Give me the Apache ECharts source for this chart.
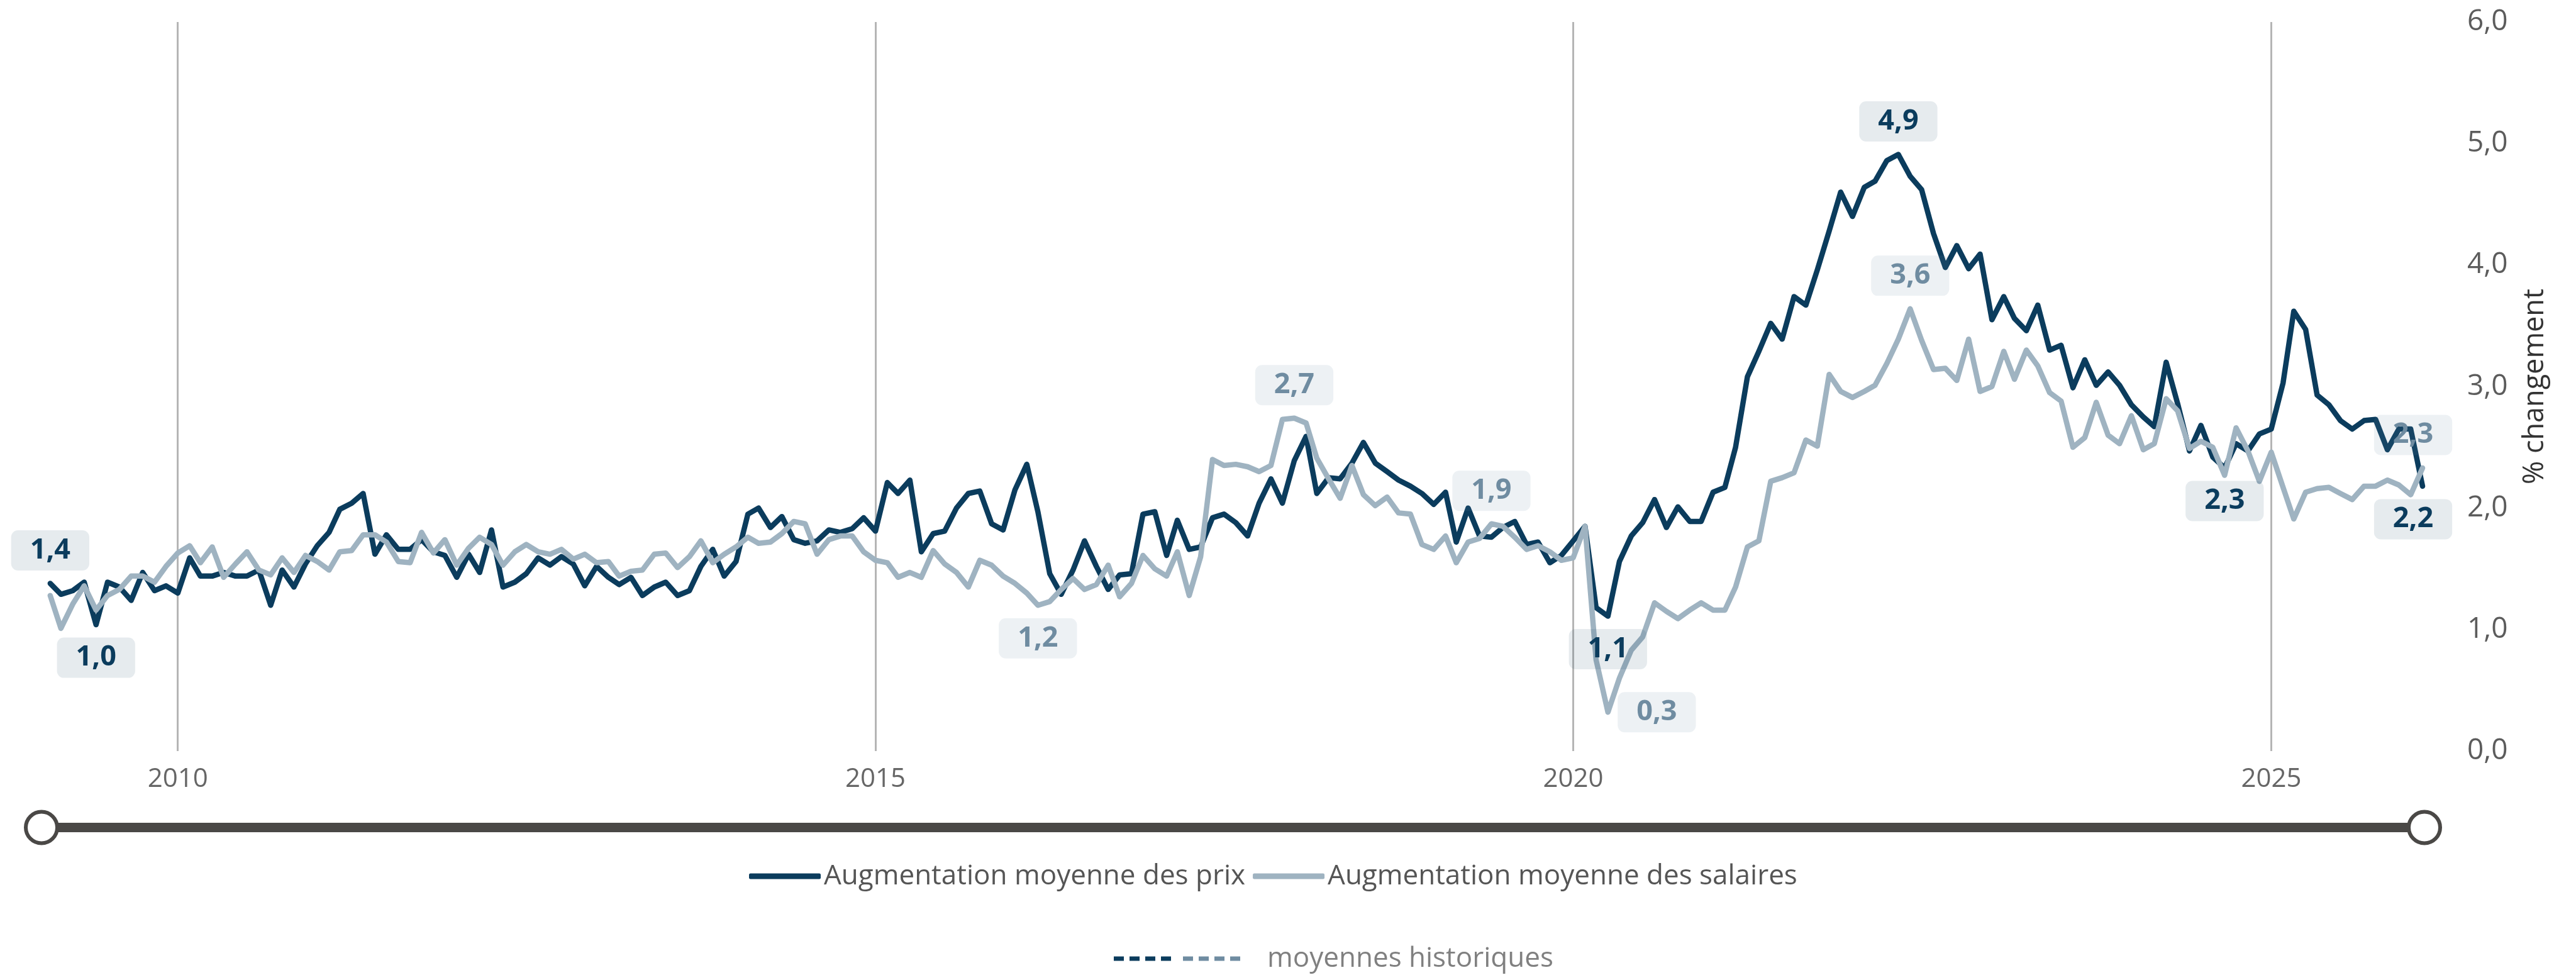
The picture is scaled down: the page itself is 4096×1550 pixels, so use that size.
<!DOCTYPE html>
<html lang="fr">
<head>
<meta charset="utf-8">
<title>Augmentation moyenne des prix et des salaires</title>
<script src="https://cdn.jsdelivr.net/npm/echarts@6/dist/echarts.min.js"></script>
<style>
  html, body { margin: 0; padding: 0; background: #fff; }
  #chart { width: 4096px; height: 1550px; }
</style>
</head>
<body>
<div id="chart"></div>
<script>
// premier point : février 2009, un point par mois
const startYear = 2009;
const startMonth = 2;

// Augmentation moyenne des prix (%)
const prices = [
  1.38, 1.29, 1.32, 1.39, 1.04, 1.39, 1.35, 1.24, 1.47, 1.32, 1.36,            // 2009
  1.30, 1.59, 1.44, 1.44, 1.47, 1.44, 1.44, 1.49, 1.20, 1.49, 1.35, 1.54,      // 2010
  1.69, 1.80, 1.99, 2.04, 2.12, 1.62, 1.78, 1.66, 1.66, 1.74, 1.64, 1.61,      // 2011
  1.43, 1.62, 1.47, 1.82, 1.35, 1.39, 1.46, 1.59, 1.53, 1.60, 1.54, 1.36,      // 2012
  1.52, 1.43, 1.37, 1.43, 1.28, 1.35, 1.39, 1.28, 1.32, 1.52, 1.66, 1.44,      // 2013
  1.56, 1.95, 2.00, 1.84, 1.93, 1.74, 1.71, 1.73, 1.82, 1.80, 1.83, 1.92,      // 2014
  1.81, 2.21, 2.12, 2.23, 1.64, 1.79, 1.81, 2.00, 2.12, 2.14, 1.87, 1.82,      // 2015
  2.15, 2.36, 1.97, 1.46, 1.29, 1.49, 1.73, 1.52, 1.33, 1.45, 1.46, 1.95,      // 2016
  1.97, 1.61, 1.90, 1.66, 1.68, 1.92, 1.95, 1.88, 1.77, 2.04, 2.24, 2.04,      // 2017
  2.39, 2.59, 2.12, 2.25, 2.24, 2.37, 2.54, 2.37, 2.30, 2.23, 2.18, 2.12,      // 2018
  2.03, 2.13, 1.72, 2.00, 1.77, 1.76, 1.84, 1.89, 1.70, 1.72, 1.55, 1.61,      // 2019
  1.73, 1.85, 1.18, 1.11, 1.56, 1.77, 1.88, 2.07, 1.84, 2.01, 1.89, 1.89,      // 2020
  2.13, 2.17, 2.50, 3.08, 3.29, 3.52, 3.39, 3.74, 3.67, 3.96, 4.28, 4.60,      // 2021
  4.40, 4.64, 4.69, 4.86, 4.91, 4.73, 4.62, 4.26, 3.98, 4.16, 3.97, 4.09,      // 2022
  3.55, 3.74, 3.56, 3.46, 3.67, 3.30, 3.34, 2.99, 3.22, 3.01, 3.12, 3.01,      // 2023
  2.85, 2.75, 2.67, 3.20, 2.86, 2.47, 2.68, 2.42, 2.33, 2.53, 2.47, 2.61,      // 2024
  2.65, 3.03, 3.62, 3.47, 2.93, 2.85, 2.72, 2.65, 2.72, 2.73, 2.48, 2.65,      // 2025
  2.65, 2.18                                                                   // 2026
];

// Augmentation moyenne des salaires (%)
const wages = [
  1.28, 1.01, 1.21, 1.36, 1.16, 1.28, 1.33, 1.44, 1.44, 1.39, 1.52,            // 2009
  1.63, 1.69, 1.55, 1.68, 1.43, 1.54, 1.64, 1.49, 1.45, 1.59, 1.47, 1.61,      // 2010
  1.56, 1.49, 1.64, 1.65, 1.78, 1.78, 1.72, 1.56, 1.55, 1.80, 1.63, 1.74,      // 2011
  1.53, 1.67, 1.76, 1.70, 1.53, 1.64, 1.70, 1.64, 1.62, 1.66, 1.58, 1.62,      // 2012
  1.55, 1.56, 1.44, 1.48, 1.49, 1.62, 1.63, 1.51, 1.60, 1.73, 1.55, 1.62,      // 2013
  1.68, 1.76, 1.71, 1.72, 1.79, 1.89, 1.87, 1.62, 1.74, 1.77, 1.77, 1.64,      // 2014
  1.57, 1.55, 1.43, 1.47, 1.43, 1.65, 1.54, 1.47, 1.35, 1.57, 1.53, 1.44,      // 2015
  1.38, 1.30, 1.20, 1.23, 1.33, 1.42, 1.33, 1.37, 1.53, 1.27, 1.38, 1.61,      // 2016
  1.50, 1.44, 1.64, 1.28, 1.60, 2.40, 2.35, 2.36, 2.34, 2.30, 2.35, 2.73,      // 2017
  2.74, 2.70, 2.41, 2.24, 2.08, 2.35, 2.11, 2.02, 2.09, 1.96, 1.95, 1.70,      // 2018
  1.66, 1.77, 1.55, 1.72, 1.75, 1.87, 1.85, 1.76, 1.66, 1.69, 1.64, 1.57,      // 2019
  1.59, 1.85, 0.75, 0.32, 0.60, 0.83, 0.94, 1.22, 1.15, 1.09, 1.16, 1.22,      // 2020
  1.16, 1.16, 1.35, 1.68, 1.73, 2.22, 2.25, 2.29, 2.56, 2.51, 3.10, 2.96,      // 2021
  2.91, 2.96, 3.01, 3.19, 3.39, 3.64, 3.38, 3.14, 3.15, 3.05, 3.39, 2.96,      // 2022
  3.00, 3.29, 3.06, 3.30, 3.17, 2.95, 2.88, 2.50, 2.58, 2.87, 2.60, 2.53,      // 2023
  2.76, 2.48, 2.53, 2.90, 2.80, 2.49, 2.55, 2.50, 2.27, 2.66, 2.47, 2.22,      // 2024
  2.46, 2.17, 1.91, 2.13, 2.16, 2.17, 2.12, 2.07, 2.18, 2.18, 2.23, 2.19,      // 2025
  2.11, 2.33                                                                   // 2026
];

// années repères sur l'axe horizontal
const xTickYears = [2010, 2015, 2020, 2025];

// étiquettes de valeurs (mois annotés et position de l'étiquette)
const priceLabelMonths = ['2009-02', '2009-06', '2020-04', '2022-05', '2024-09', '2026-02'];
const priceLabelPos = ['top', 'bottom', 'bottom', 'top', 'bottom', 'bottom'];
const wageLabelMonths = ['2016-03', '2018-01', '2019-06', '2020-04', '2022-06', '2026-02'];
const wageLabelPos = ['bottom', 'top', 'top', 'right', 'top', 'top'];

const monthTs = (i) => new Date(startYear, startMonth - 1 + i, 1).getTime();
const yearTs = (y) => new Date(y, 0, 1).getTime();
const monthIndex = (s) => {
  const [y, m] = s.split('-').map(Number);
  return (y - startYear) * 12 + (m - startMonth);
};
const fmt = (v) => v.toFixed(1).replace('.', ',');

const priceData = prices.map((v, i) => [monthTs(i), v]);
const wageData = wages.map((v, i) => [monthTs(i), v]);
const lastIndex = prices.length - 1;
const xTicks = xTickYears.map(yearTs);

const makeMarks = (months, positions, values) => months.map((m, k) => {
  const i = monthIndex(m);
  const pos = positions[k];
  return {
    coord: [monthTs(i), values[i]],
    value: values[i],
    label: {
      position: pos,
      distance: pos === 'right' ? 15 : 20,
      offset: i === lastIndex ? [-15, 0] : [0, 0]
    }
  };
});

const labelBase = {
  show: true,
  formatter: (p) => fmt(p.value),
  fontSize: 45,
  fontWeight: 'bold',
  lineHeight: 46,
  padding: [9, 30],
  borderRadius: 11
};

const DARK = '#0b3c5d';
const GREY = '#9fb3c1';
const SLATE = '#6f8ca1';

// icône en pointillés (4 carrés) pour la légende des moyennes historiques
const dashIcon = 'path://M0,0H16V7H0Z M25,0H41V7H25Z M50,0H66V7H50Z M75,0H91V7H75Z';

const myChart = echarts.init(document.getElementById('chart'));

const option = {
  animation: false,
  backgroundColor: '#ffffff',
  textStyle: { fontFamily: '"Open Sans", "Noto Sans", sans-serif' },
  grid: { left: 61, right: 244, top: 35, bottom: 356, outerBoundsMode: 'none' },
  xAxis: {
    type: 'value',
    min: monthTs(-1),
    max: monthTs(lastIndex),
    axisLine: { show: false },
    axisTick: { show: false, customValues: xTicks },
    splitLine: { show: false },
    axisLabel: {
      customValues: xTicks,
      formatter: (v) => String(new Date(v).getFullYear()),
      fontSize: 42,
      color: '#666666',
      margin: 24
    }
  },
  yAxis: {
    type: 'value',
    position: 'right',
    min: 0,
    max: 6,
    interval: 1,
    splitLine: { show: false },
    axisLine: { show: false },
    axisTick: { show: false },
    axisLabel: {
      margin: 71,
      fontSize: 46,
      color: '#5c5c5c',
      formatter: (v) => fmt(v)
    },
    name: '% changement',
    nameLocation: 'middle',
    nameRotate: 90,
    nameGap: 157,
    nameTextStyle: { fontSize: 45, color: '#333333' }
  },
  legend: [
    {
      data: ['Augmentation moyenne des prix', 'Augmentation moyenne des salaires'],
      icon: 'roundRect',
      left: 1186,
      top: 1366,
      itemWidth: 114,
      itemHeight: 9,
      itemGap: 12,
      selectedMode: false,
      textStyle: { fontSize: 44, color: '#555555' }
    },
    {
      data: ['hist-prix', { name: 'moyennes historiques', textStyle: { padding: [0, 0, 0, 38] } }],
      formatter: (n) => (n === 'hist-prix' ? '' : n),
      icon: dashIcon,
      left: 1766,
      top: 1497,
      itemWidth: 91,
      itemHeight: 7,
      itemGap: 19,
      selectedMode: false,
      textStyle: { fontSize: 44, color: '#808080' }
    }
  ],
  dataZoom: [
    {
      type: 'slider',
      xAxisIndex: 0,
      filterMode: 'none',
      start: 0,
      end: 100,
      zoomLock: true,
      left: 61,
      right: 244,
      top: 1308,
      height: 15,
      backgroundColor: 'transparent',
      borderColor: 'transparent',
      fillerColor: '#4a4846',
      showDetail: false,
      showDataShadow: false,
      brushSelect: false,
      dataBackground: { lineStyle: { opacity: 0 }, areaStyle: { opacity: 0 } },
      selectedDataBackground: { lineStyle: { opacity: 0 }, areaStyle: { opacity: 0 } },
      handleIcon: 'circle',
      handleSize: 50,
      handleStyle: { color: '#ffffff', borderColor: '#4a4846', borderWidth: 6 },
      moveHandleSize: 0
    }
  ],
  series: [
    {
      name: 'grille',
      type: 'line',
      data: [],
      markLine: {
        silent: true,
        symbol: 'none',
        z: 1,
        label: { show: false },
        lineStyle: { color: '#b5b5b5', width: 3, type: 'solid' },
        data: xTicks.map(t => ({ xAxis: t }))
      }
    },
    {
      name: 'Augmentation moyenne des prix',
      type: 'line',
      data: priceData,
      symbol: 'none',
      z: 3,
      itemStyle: { color: DARK },
      lineStyle: { color: DARK, width: 8.5, join: 'round', cap: 'round' },
      markPoint: {
        symbol: 'rect',
        symbolSize: 1,
        itemStyle: { color: 'transparent' },
        label: Object.assign({}, labelBase, {
          color: DARK,
          backgroundColor: 'rgba(11, 60, 93, 0.1)'
        }),
        data: makeMarks(priceLabelMonths, priceLabelPos, prices)
      }
    },
    {
      name: 'Augmentation moyenne des salaires',
      type: 'line',
      data: wageData,
      symbol: 'none',
      z: 4,
      itemStyle: { color: GREY },
      lineStyle: { color: GREY, width: 8.5, join: 'round', cap: 'round' },
      markPoint: {
        symbol: 'rect',
        symbolSize: 1,
        itemStyle: { color: 'transparent' },
        label: Object.assign({}, labelBase, {
          color: SLATE,
          backgroundColor: 'rgba(111, 140, 161, 0.12)'
        }),
        data: makeMarks(wageLabelMonths, wageLabelPos, wages)
      }
    },
    {
      name: 'hist-prix',
      type: 'line',
      data: [],
      symbol: 'none',
      itemStyle: { color: DARK },
      lineStyle: { color: DARK, width: 7, type: [16, 9], cap: 'butt' }
    },
    {
      name: 'moyennes historiques',
      type: 'line',
      data: [],
      symbol: 'none',
      itemStyle: { color: SLATE },
      lineStyle: { color: SLATE, width: 7, type: [16, 9], cap: 'butt' }
    }
  ]
};

option && myChart.setOption(option);
</script>
</body>
</html>
